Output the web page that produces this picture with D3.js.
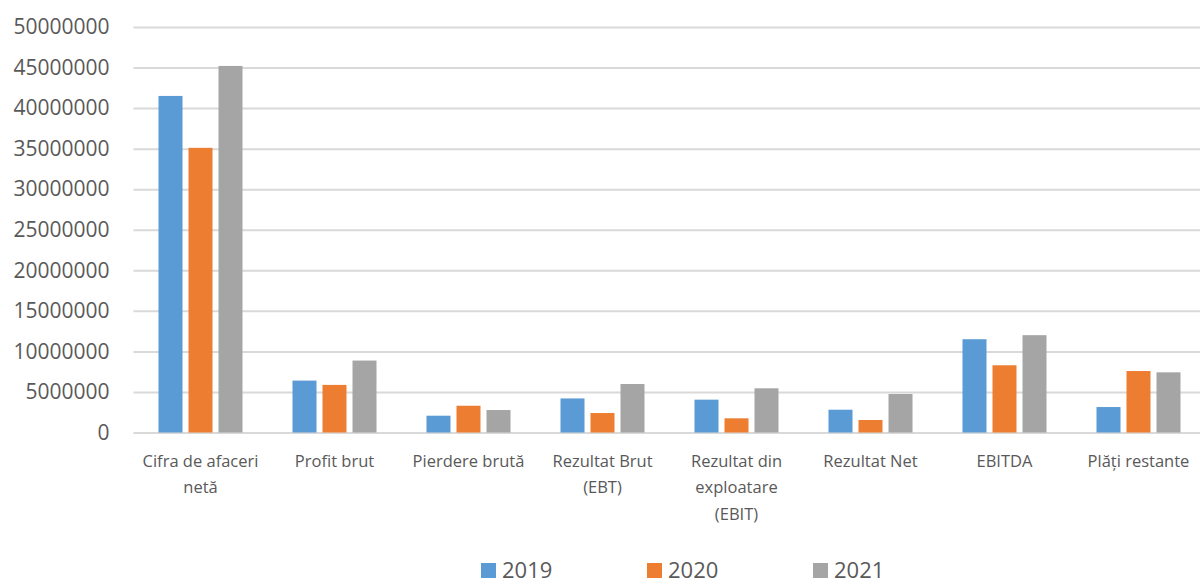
<!DOCTYPE html>
<html>
<head>
<meta charset="utf-8">
<script src="https://cdn.jsdelivr.net/npm/d3@7"></script>
<style>
  body { margin: 0; background: #fff; }
  svg { display: block; font-family: "Open Sans", "Noto Sans", sans-serif; }
  .grid line { stroke: #d9d9d9; stroke-width: 2; }
  .tick text { fill: #595959; }
</style>
</head>
<body>
<div id="chart"></div>
<script>
// chart data
var categories = ["Cifra de afaceri netă", "Profit brut", "Pierdere brută", "Rezultat Brut (EBT)",
    "Rezultat din exploatare (EBIT)", "Rezultat Net", "EBITDA", "Plăți restante"];
// how the axis labels break into lines
var categoryLines = [["Cifra de afaceri", "netă"], ["Profit brut"], ["Pierdere brută"], ["Rezultat Brut", "(EBT)"],
    ["Rezultat din", "exploatare", "(EBIT)"], ["Rezultat Net"], ["EBITDA"], ["Plăți restante"]];
var years = ["2019", "2020", "2021"];
var values2019 = [41500000, 6400000, 2070000, 4200000, 4050000, 2810000, 11500000, 3140000];
var values2020 = [35100000, 5870000, 3300000, 2400000, 1750000, 1540000, 8290000, 7580000];
var values2021 = [45200000, 8870000, 2770000, 5980000, 5450000, 4750000, 12000000, 7420000];
var yTicks = [0, 5000000, 10000000, 15000000, 20000000, 25000000, 30000000, 35000000, 40000000, 45000000, 50000000];
var colors = ["#5b9bd5", "#ed7d31", "#a5a5a5"];

var svgWidth = 1200;
var svgHeight = 583;
var margin = { top: 27, left: 133.5, right: 0, bottom: 150.5 };
var plotRight = 1205.5;
var height = svgHeight - margin.top - margin.bottom;

var svg = d3.select("#chart")
    .append("svg")
    .attr("width", svgWidth)
    .attr("height", svgHeight);

var chartGroup = svg.append("g")
    .attr("transform", `translate(${margin.left}, ${margin.top})`);

var series = [values2019, values2020, values2021];

//Scales
var xScale = d3.scaleBand()
    .domain(categories)
    .range([0, plotRight - margin.left]);

var xInner = d3.scaleBand()
    .domain(years)
    .range([25, xScale.bandwidth() - 25])
    .paddingInner(0.2);

var yScale = d3.scaleLinear()
    .domain([0, 50000000])
    .range([height, 0]);

//Gridlines
chartGroup.append("g")
    .attr("class", "grid")
    .call(d3.axisLeft(yScale).tickValues(yTicks).tickSize(-(plotRight - margin.left)).tickFormat(""))
    .call(g => g.select(".domain").remove());

//Y axis labels
chartGroup.append("g")
    .call(d3.axisLeft(yScale).tickValues(yTicks).tickSize(0).tickPadding(24).tickFormat(d3.format("d")))
    .call(g => g.select(".domain").remove())
    .selectAll("text")
    .style("font-family", "'Open Sans', sans-serif")
    .style("font-size", "21px");

//Bars
var groups = chartGroup.selectAll(".cat")
    .data(categories)
    .enter()
    .append("g")
    .attr("transform", d => `translate(${xScale(d)}, 0)`);

groups.selectAll("rect")
    .data((d, i) => years.map((y, j) => ({ year: y, value: series[j][i], idx: j })))
    .enter()
    .append("rect")
    .attr("x", d => xInner(d.year))
    .attr("width", xInner.bandwidth())
    .attr("y", d => yScale(d.value))
    .attr("height", d => height - yScale(d.value))
    .attr("fill", d => colors[d.idx]);

//Category labels
var labelGroup = chartGroup.append("g")
    .attr("transform", `translate(0, ${height})`);

categories.forEach(function(cat, ci) {
    var cx = xScale(cat) + xScale.bandwidth() / 2;
    var t = labelGroup.append("text")
        .attr("x", cx)
        .attr("y", 34)
        .attr("text-anchor", "middle")
        .style("font-size", "16.5px")
        .style("fill", "#595959");
    categoryLines[ci].forEach(function(l, i) {
        t.append("tspan")
            .attr("x", cx)
            .attr("dy", i === 0 ? 0 : 26.5)
            .text(l);
    });
});

//Legend
var legendScale = d3.scalePoint()
    .domain(years)
    .range([481, 813]);

var legend = svg.append("g");
years.forEach(function(y, i) {
    legend.append("rect")
        .attr("x", legendScale(y))
        .attr("y", 563)
        .attr("width", 15)
        .attr("height", 15)
        .attr("fill", colors[i]);
    legend.append("text")
        .attr("x", legendScale(y) + 21)
        .attr("y", 578)
        .style("font-size", "22px")
        .style("fill", "#595959")
        .text(y);
});
</script>
</body>
</html>
